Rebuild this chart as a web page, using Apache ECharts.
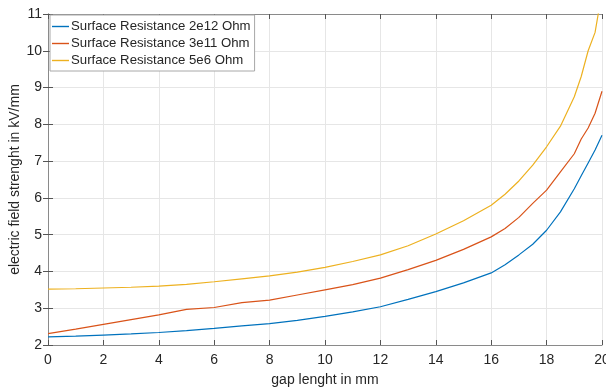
<!DOCTYPE html>
<html><head><meta charset="utf-8">
<script src="https://cdn.jsdelivr.net/npm/echarts@6/dist/echarts.min.js"></script>
<style>html,body{margin:0;padding:0;background:#fff}#c{width:606px;height:390px}</style>
</head><body><div id="c"></div>
<script>
const gapMM = [0,1,2,3,4,5,6,7,8,9,10,11,12,13,14,15,16,16.5,17,17.5,18,18.5,19,19.25,19.5,19.75,20];
const field2e12 = [2.22,2.24,2.27,2.30,2.34,2.39,2.45,2.52,2.58,2.67,2.78,2.90,3.04,3.24,3.45,3.69,3.96,4.18,4.45,4.74,5.12,5.62,6.25,6.60,6.95,7.30,7.70];
const field3e11 = [2.31,2.43,2.56,2.69,2.82,2.97,3.02,3.15,3.22,3.36,3.50,3.64,3.82,4.05,4.30,4.60,4.94,5.17,5.47,5.85,6.21,6.71,7.20,7.60,7.90,8.30,8.90];
const field5e6  = [3.52,3.53,3.55,3.57,3.60,3.65,3.72,3.80,3.88,3.98,4.11,4.27,4.45,4.70,5.02,5.38,5.80,6.10,6.46,6.89,7.39,7.95,8.75,9.30,10.00,10.50,11.60];
const seriesNames = ['Surface Resistance 2e12 Ohm','Surface Resistance 3e11 Ohm','Surface Resistance 5e6 Ohm'];
const colors = ['#0072BD','#D95319','#EDB120'];
const xTicks = {min:0, max:20, interval:2};
const yTicks = {min:2, max:11, interval:1};

const FONT = '"Liberation Sans", Arial, Helvetica, sans-serif';
const pair = ys => gapMM.map((x,i)=>[x, ys[i]]);
const allY = [field2e12, field3e11, field5e6];

const axisLine = {show:true, lineStyle:{color:'#8a8a8a', width:1}};
const axisTick = {show:true, inside:true, length:5, lineStyle:{color:'#555'}};
const split = {show:true, lineStyle:{color:'#e6e6e6', width:1}};

const chart = echarts.init(document.getElementById('c'), null, {renderer:'canvas'});
chart.setOption({
  animation:false,
  color: colors,
  textStyle:{fontFamily:FONT},
  grid:{left:48, right:4, top:14, bottom:45, containLabel:false, outerBoundsMode:'none'},
  legend:{
    orient:'vertical', left:50, top:15,
    backgroundColor:'#fff', borderColor:'#a8a8a8', borderWidth:1,
    padding:[5,4,4,2], itemGap:4, itemWidth:17, itemHeight:13,
    icon:'path://M0,6 L17,6 L17,7.4 L0,7.4 Z',
    textStyle:{fontFamily:FONT, fontSize:13.2, color:'#262626', padding:[0,0,0,-3]},
    data: seriesNames
  },
  xAxis:[{
    type:'value', min:xTicks.min, max:xTicks.max, interval:xTicks.interval,
    name:'gap lenght in mm', nameLocation:'middle', nameGap:28, nameMoveOverlap:false,
    nameTextStyle:{fontFamily:FONT, fontSize:14, color:'#262626'},
    axisLine, axisTick, splitLine:split,
    axisLabel:{fontFamily:FONT, fontSize:14, color:'#262626', margin:8}
  },{
    type:'value', position:'top', min:xTicks.min, max:xTicks.max, interval:xTicks.interval,
    axisLine, axisTick, axisLabel:{show:false}, splitLine:{show:false}
  }],
  yAxis:[{
    type:'value', min:yTicks.min, max:yTicks.max, interval:yTicks.interval,
    name:'electric field strenght in kV/mm', nameLocation:'middle', nameGap:26, nameMoveOverlap:false,
    nameTextStyle:{fontFamily:FONT, fontSize:14, color:'#262626'},
    axisLine, axisTick, splitLine:split,
    axisLabel:{fontFamily:FONT, fontSize:14, color:'#262626', margin:6}
  },{
    type:'value', position:'right', min:yTicks.min, max:yTicks.max, interval:yTicks.interval,
    axisLine, axisTick, axisLabel:{show:false}, splitLine:{show:false}
  }],
  series: seriesNames.map((n,i)=>({
    name:n, type:'line', data:pair(allY[i]), symbol:'none', clip:true,
    lineStyle:{width:1.2, color:colors[i]}, itemStyle:{color:colors[i]}
  }))
});
</script></body></html>
